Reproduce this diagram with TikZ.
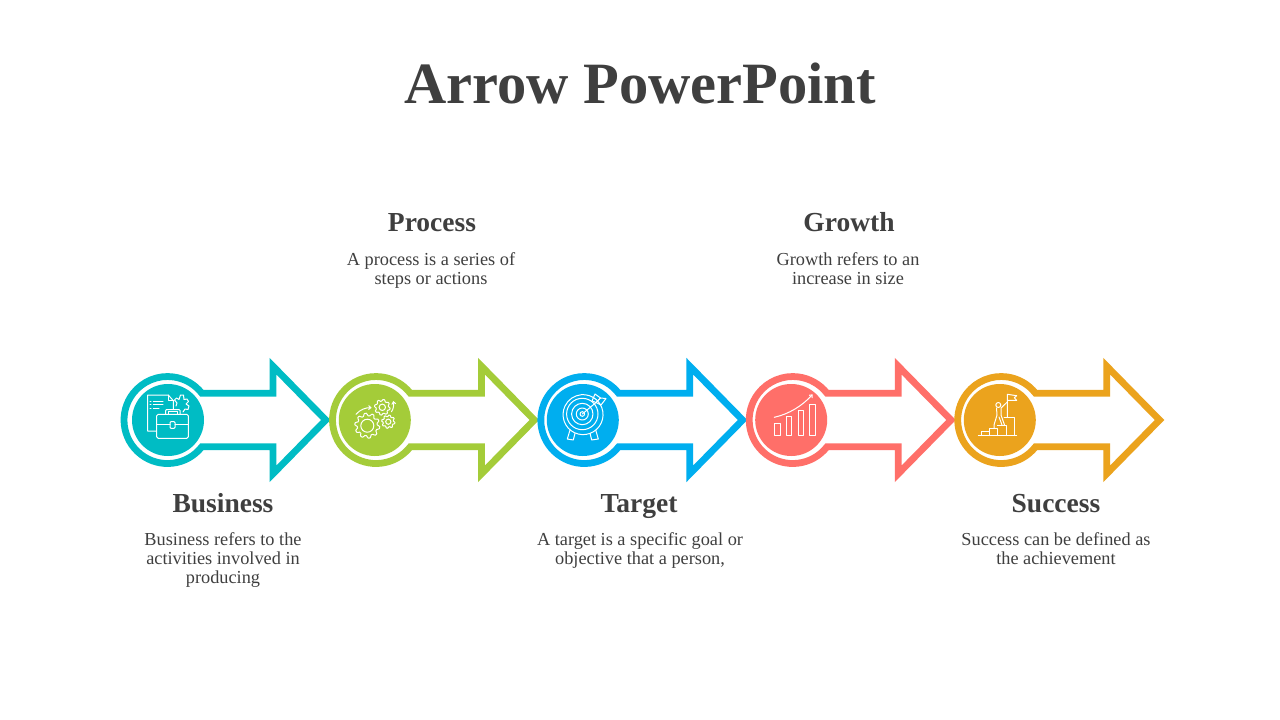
\documentclass[tikz,border=0pt]{standalone}
\usepackage{fontspec}
\setmainfont{Liberation Serif}
\usetikzlibrary{arrows.meta}
\definecolor{cteal}{HTML}{00BCC4}
\definecolor{cgreen}{HTML}{A4CC39}
\definecolor{cblue}{HTML}{00AEEF}
\definecolor{ccoral}{HTML}{FF6F69}
\definecolor{corange}{HTML}{EBA31D}
\definecolor{ctext}{HTML}{3F3F3F}
\tikzset{
  ic/.style={draw=white,line width=1pt,line join=round,line cap=round},
  icarrow/.style={ic,-{Straight Barb[length=2.4pt,width=4pt]}},
  ttl/.style={font=\fontsize{58.5}{60}\selectfont\bfseries,text=ctext,anchor=base},
  head/.style={font=\fontsize{27.5}{30}\selectfont\bfseries,text=ctext,anchor=base},
  desc/.style={font=\fontsize{18.3}{19}\selectfont,text=ctext,align=center,anchor=center},
  arrowshape/.style={draw=#1,line width=6.8pt,line join=miter,miter limit=10,fill=none},
  pics/bigarrow/.style={code={
    \draw[arrowshape=#1] (70,26.8) -- (34.3,26.8) arc[start angle=-38,end angle=-322,radius=43.5pt]
      -- (105.5,-26.8) -- (105.5,-53.8) -- (158.3,0) -- (105.5,53.8) -- (105.5,26.8) -- (60,26.8);
  }}
}
\newcommand{\gearpath}[5]{% x y outer-radius teeth tooth-depth
  \draw[ic,shift={(#1,#2)}] plot[domain=0:360,samples=#4*8+1] (\x:{#3-#5+#5*max(min(2*sin(#4*\x),1),-1)*0.5+#5*0.5}) -- cycle;
}
\begin{document}
\begin{tikzpicture}[x=1pt,y=-1pt]
\useasboundingbox (0,0) rectangle (1280,720);
\fill[white] (0,0) rectangle (1280,720);

% arrows
\pic at (167.5,420) {bigarrow=cteal};
\pic at (376,420) {bigarrow=cgreen};
\pic at (584.3,420) {bigarrow=cblue};
\pic at (792.7,420) {bigarrow=ccoral};
\pic at (1001.2,420) {bigarrow=corange};

% discs
\fill[cteal] (168,420) circle[radius=36pt];
\fill[cgreen] (374.8,420) circle[radius=36pt];
\fill[cblue] (582.8,420) circle[radius=36pt];
\fill[ccoral] (791.2,420) circle[radius=36pt];
\fill[corange] (999.8,420) circle[radius=36pt];

% icon 1: briefcase
\begin{scope}[shift={(168,420)}]
  \draw[ic] (-12,11) -- (-20.3,11) -- (-20.3,-25) -- (0.3,-25) -- (5.3,-19.3) -- (5.3,-11);
  \draw[ic] (0.3,-25) -- (0.3,-19.3) -- (5.3,-19.3);
  \draw[ic] (-14.7,-19) -- (-5,-19) (-14.7,-15.7) -- (-5,-15.7) (-14.7,-11.7) -- (-9,-11.7);
  \draw[ic] (-18,-19) -- (-17,-19) (-18,-15.7) -- (-17,-15.7) (-18,-11.7) -- (-17,-11.7);
  \draw[ic,rounded corners=1.5pt] (-11.3,-5.7) rectangle (20.3,18.3);
  \draw[ic,rounded corners=1pt] (-2.3,-5.7) -- (-2.3,-10.5) -- (12,-10.5) -- (12,-5.7);
  \draw[ic] (0.2,-5.7) -- (0.2,-8.2) -- (9.5,-8.2) -- (9.5,-5.7);
  \draw[ic] (-11.3,4.5) -- (2,4.5) (7,4.5) -- (20.3,4.5);
  \draw[ic,rounded corners=1pt] (2,1.7) rectangle (7,8.3);
  \draw[ic] (8,-14) -- (9,-17) -- (6.5,-20) -- (8.5,-22) -- (11,-20.5) -- (12.5,-25) -- (15.5,-25) -- (16,-20.5) -- (19,-21) -- (20.5,-18.5) -- (18,-16) -- (21,-14) -- (20,-10.5) -- (17,-11) -- (15,-8);
\end{scope}

% icon 2: gears
\begin{scope}[shift={(376,420)}]
  \gearpath{-8.7}{5.7}{12.5}{10}{2.5}
  \draw[ic] (-8.7,5.7) circle[radius=6.5pt];
  \gearpath{6.3}{-12.7}{7.8}{8}{1.6}
  \draw[ic] (6.3,-12.7) circle[radius=3.2pt];
  \gearpath{12.3}{1.7}{6.6}{8}{1.4}
  \draw[ic] (12.3,1.7) circle[radius=2.6pt];
  \draw[icarrow] (-20,-5.7) .. controls (-16,-10.5) and (-10,-12.5) .. (-4.3,-12.3);
  \draw[icarrow] (15.5,-8.3) .. controls (17.5,-11) and (18,-15) .. (17.3,-19);
\end{scope}

% icon 3: target
\begin{scope}[shift={(584,420)}]
  \draw[ic] (7.5,-23.5) arc[start angle=65,end angle=-312,radius=20pt];
  \draw[ic] (-1.7,-6) circle[radius=15.7pt];
  \draw[ic] (-1.7,-6) circle[radius=10.7pt];
  \draw[ic] (-1.7,-6) circle[radius=6pt];
  \draw[ic] (-1.7,-6) circle[radius=2.3pt];
  \draw[ic] (-1.7,-6) -- (12,-17.5);
  \draw[ic] (8,-19) -- (11,-26) -- (16.5,-22) -- (12,-17.5) -- cycle;
  \draw[ic] (12,-17.5) -- (16.5,-22) -- (22,-21.5) -- (17,-15) -- cycle;
  \draw[ic] (-14,10) -- (-16.7,19) -- (-10.7,20) -- (-9,13.3);
  \draw[ic] (6,13.3) -- (7.7,20) -- (14.3,19) -- (11.7,10);
\end{scope}

% icon 4: chart
\begin{scope}[shift={(792,420)}]
  \draw[ic] (-17.7,3.3) rectangle (-12,15.7);
  \draw[ic] (-6,-4) rectangle (-0.3,15.7);
  \draw[ic] (6,-9.3) rectangle (11.3,15.7);
  \draw[ic] (17.7,-15.3) rectangle (23.3,15.7);
  \draw[icarrow] (-17.7,-2.7) .. controls (-3,-6) and (10,-14) .. (20.7,-25.7);
\end{scope}

% icon 5: climber
\begin{scope}[shift={(1000,420)}]
  \draw[ic] (-21.7,15.7) -- (16.7,15.7);
  \draw[ic] (-19,15.7) -- (-19,11.7) -- (-10.7,11.7);
  \draw[ic] (-10.7,15.7) -- (-10.7,8.3) -- (-2.7,8.3) -- (-2.7,15.7);
  \draw[ic] (-2.7,5) -- (6,5) -- (6,15.7);
  \draw[ic] (4,-2.7) -- (14,-2.7) -- (14,15.7);
  \draw[ic] (7.3,-3) -- (7.3,-25.7) -- (16.7,-24.3) -- (14.3,-22.3) -- (16.7,-19.7) -- (7.3,-19.7);
  \draw[ic] (-1.7,-15) circle[radius=2.5pt];
  \draw[ic] (7.3,-18) -- (1,-12) -- (1,-5) -- (4.5,5);
  \draw[ic] (-3.5,-12) -- (-3,-5) -- (-6,5) -- (-6,8);
  \draw[ic] (-1,-3) -- (2,5);
\end{scope}

% text
\node[ttl] (title) at (640,103) {Arrow PowerPoint};
\node[head] (h1) at (223,512) {Business};
\node[head] (h2) at (432,231) {Process};
\node[head] (h3) at (639,512) {Target};
\node[head] (h4) at (849,231) {Growth};
\node[head] (h5) at (1056,512) {Success};
\node[desc] (d1) at (223,560) {Business refers to the\\activities involved in\\producing};
\node[desc] (d2) at (431,270.5) {A process is a series of\\steps or actions};
\node[desc] (d3) at (640,550.5) {A target is a specific goal or\\objective that a person,};
\node[desc] (d4) at (848,268.5) {Growth refers to an\\increase in size};
\node[desc] (d5) at (1056,548.5) {Success can be defined as\\the achievement};
\end{tikzpicture}
\end{document}
